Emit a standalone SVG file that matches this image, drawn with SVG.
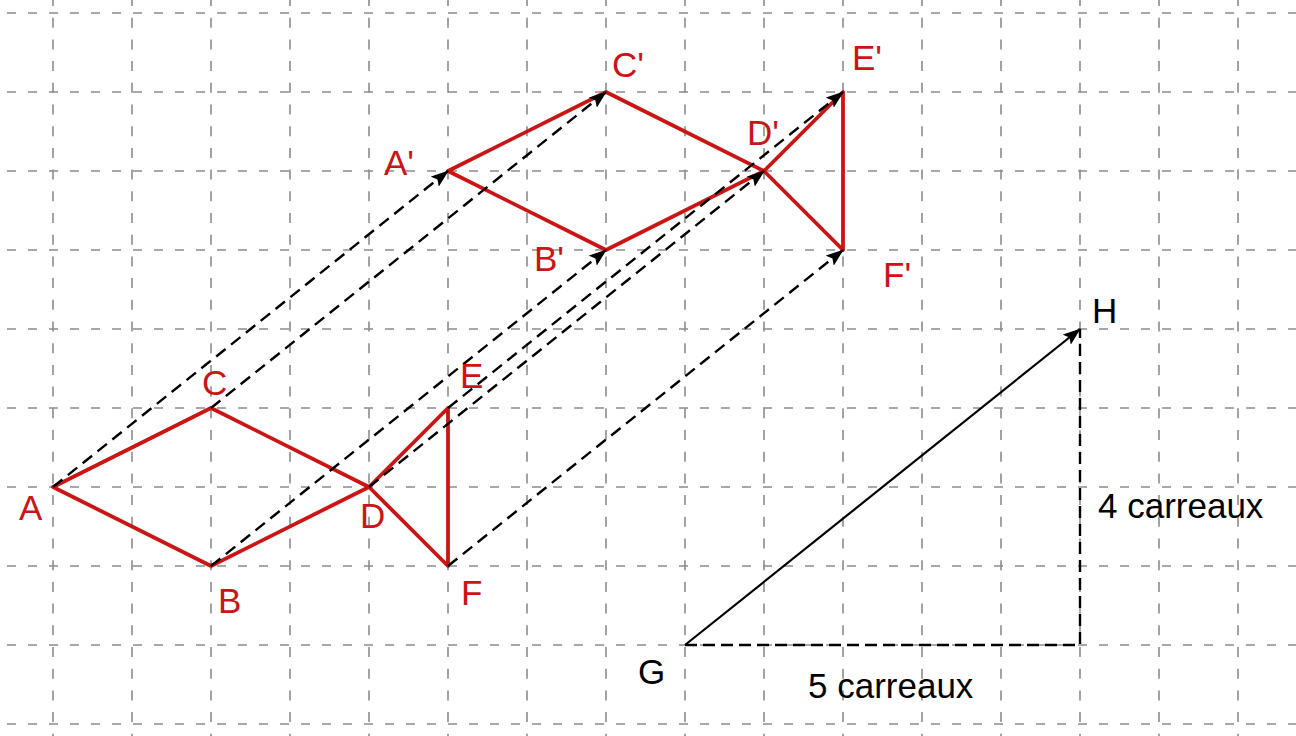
<svg xmlns="http://www.w3.org/2000/svg" width="1296" height="736" viewBox="0 0 1296 736">
<style>
.gh{stroke:#8c8c8c;stroke-width:1.6;stroke-dasharray:9 12;fill:none}
.gv{stroke:#8c8c8c;stroke-width:1.6;stroke-dasharray:10 11.7;fill:none}
.red{stroke:#cc1414;stroke-width:3.8;fill:none;stroke-linejoin:round;stroke-linecap:round}
.con{stroke:#000;stroke-width:2.4;stroke-dasharray:12 7;fill:none;marker-end:url(#ah)}
.dsh{stroke:#000;stroke-width:2.4;stroke-dasharray:12 6;fill:none}
.vec{stroke:#000;stroke-width:2.2;fill:none;marker-end:url(#ah)}
.lr{font-family:"Liberation Sans",Arial,sans-serif;font-size:35px;fill:#cc1414}
.lb{font-family:"Liberation Sans",Arial,sans-serif;font-size:35px;fill:#000}
</style>
<defs>
<marker id="ah" markerUnits="userSpaceOnUse" viewBox="0 0 18 13" refX="17" refY="6.5" markerWidth="18" markerHeight="13" orient="auto">
<path d="M0,0 L18,6.5 L0,13 L3.5,6.5 Z" fill="#000"/>
</marker>
</defs>
<rect width="1296" height="736" fill="#fff"/>
<g id="grid">
<path class="gh" d="M7,13H1296M7,92H1296M7,171H1296M7,250H1296M7,329H1296M7,408H1296M7,487H1296M7,566H1296M7,645H1296M7,724H1296"/>
<path class="gv" d="M53,-4V736M132,-4V736M211,-4V736M290,-4V736M369,-4V736M448,-4V736M527,-4V736M606,-4V736M685,-4V736M764,-4V736M843,-4V736M922,-4V736M1001,-4V736M1080,-4V736M1159,-4V736M1238,-4V736"/>
</g>
<g id="fish">
<path class="red" d="M53,487L211,408L369,487L211,566Z"/>
<path class="red" d="M369,487L448,408L448,566Z"/>
</g>
<g id="fish-image">
<path class="red" d="M448,171L606,92L764,171L606,250Z"/>
<path class="red" d="M764,171L843,92L843,250Z"/>
</g>
<g id="connectors">
<path class="con" d="M53,487L448,171"/>
<path class="con" d="M211,566L606,250"/>
<path class="con" d="M211,408L606,92"/>
<path class="con" d="M369,487L764,171"/>
<path class="con" d="M448,408L843,92"/>
<path class="con" d="M448,566L843,250"/>
</g>
<g id="vector-GH">
<path class="dsh" d="M685,645H1080V329"/>
<path class="vec" d="M685,645L1080,329"/>
</g>
<g id="A"><text class="lr" x="19" y="520">A</text></g>
<g id="B"><text class="lr" x="218" y="613">B</text></g>
<g id="C"><text class="lr" x="202" y="395">C</text></g>
<g id="D"><text class="lr" x="360" y="528">D</text></g>
<g id="E"><text class="lr" x="460" y="388">E</text></g>
<g id="F"><text class="lr" x="461" y="605">F</text></g>
<g id="A1"><text class="lr" x="384" y="175">A'</text></g>
<g id="B1"><text class="lr" x="534" y="271">B'</text></g>
<g id="C1"><text class="lr" x="612" y="77">C'</text></g>
<g id="D1"><text class="lr" x="747" y="145">D'</text></g>
<g id="E1"><text class="lr" x="852" y="70">E'</text></g>
<g id="F1"><text class="lr" x="883" y="287">F'</text></g>
<g id="G"><text class="lb" x="638" y="684">G</text></g>
<g id="H"><text class="lb" x="1092" y="323">H</text></g>
<g id="label-4"><text class="lb" x="1098" y="518">4 carreaux</text></g>
<g id="label-5"><text class="lb" x="808" y="698">5 carreaux</text></g>
</svg>
